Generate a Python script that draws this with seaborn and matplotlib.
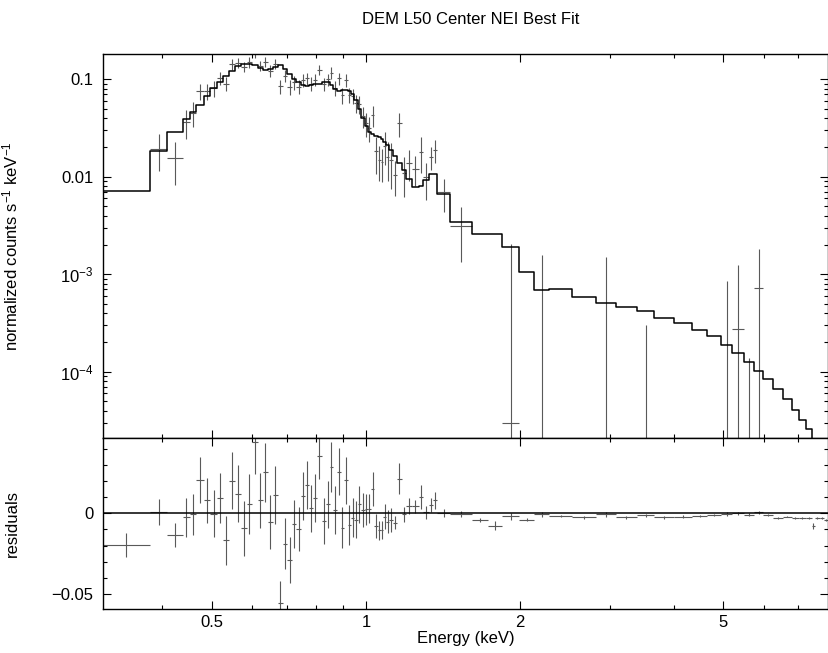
import numpy as np
import matplotlib
matplotlib.use("Agg")
import matplotlib.pyplot as plt
from matplotlib.ticker import FixedLocator, LogLocator, MultipleLocator, FuncFormatter, NullFormatter
import seaborn as sns

# bin edges of the grouped spectrum (keV)
edges = [0.300, 0.379, 0.408, 0.438, 0.452, 0.466, 0.482, 0.496, 0.511, 0.525,
         0.540, 0.555, 0.570, 0.585, 0.599, 0.614, 0.628, 0.642, 0.657, 0.673,
         0.687, 0.701, 0.717, 0.731, 0.746, 0.760, 0.775, 0.789, 0.803, 0.819,
         0.834, 0.849, 0.862, 0.876, 0.892, 0.907, 0.921, 0.935, 0.949, 0.964,
         0.979, 0.994, 1.009, 1.023, 1.038, 1.055, 1.070, 1.082, 1.097, 1.111,
         1.130, 1.152, 1.174, 1.198, 1.230, 1.269, 1.294, 1.326, 1.351, 1.377,
         1.462, 1.612, 1.736, 1.845, 1.994, 2.133, 2.282, 2.534, 2.816, 3.081,
         3.386, 3.660, 4.006, 4.337, 4.653, 4.942, 5.206, 5.489, 5.741, 5.987,
         6.261, 6.550, 6.803, 7.039, 7.246, 7.444, 7.555, 7.727, 7.868, 8.047]

# NEI model, normalized counts s^-1 keV^-1 per bin
model = [7.2e-3, 0.0185, 0.0289, 0.039, 0.0457, 0.0544, 0.0668, 0.0807, 0.093, 0.107,
         0.123, 0.136, 0.144, 0.144, 0.141, 0.130, 0.126, 0.128, 0.134, 0.141,
         0.128, 0.113, 0.100, 0.094, 0.087, 0.085, 0.087, 0.090, 0.090, 0.094,
         0.094, 0.088, 0.080, 0.076, 0.077, 0.078, 0.076, 0.070, 0.061, 0.050,
         0.040, 0.033, 0.029, 0.0276, 0.026, 0.0254, 0.0245, 0.023, 0.021, 0.019,
         0.0162, 0.0138, 0.0116, 0.0094, 0.0078, 0.0080, 0.0093, 0.0108, 0.0108, 0.0066,
         3.44e-3, 2.56e-3, 2.56e-3, 1.9e-3, 1.06e-3, 6.84e-4, 7.0e-4, 5.8e-4, 5.1e-4, 4.6e-4,
         4.2e-4, 3.6e-4, 3.2e-4, 2.7e-4, 2.3e-4, 1.9e-4, 1.57e-4, 1.27e-4, 1.03e-4, 8.4e-5,
         6.7e-5, 5.3e-5, 4.1e-5, 3.2e-5, 2.6e-5, 1.9e-5, 1.5e-5, 1.2e-5, 1.0e-5]

# residuals (data - model) and 1-sigma errors
resid = [-0.0196, 0.0010, -0.0134, -0.0023, -0.0006, 0.0206, 0.0082, -0.0002, 0.0095, -0.0167,
         0.0202, 0.0123, -0.0093, 0.0058, 0.0442, 0.0082, 0.0255, -0.0053, 0.0111, -0.0558,
         -0.0187, -0.0288, -0.0068, -0.0099, 0.0107, 0.0173, 0.0031, 0.0093, 0.0358, -0.0047,
         0.0056, 0.0288, 0.0019, 0.0259, -0.0088, 0.0204, -0.0072, -0.0027, -0.0039, 0.0056,
         0.0021, 0.0025, 0.0029, 0.0152, -0.0078, -0.0105, -0.0103, -0.0021, -0.0051, -0.0041,
         -0.0058, 0.0216, -0.0006, 0.0045, 0.0043, 0.0101, 0.0006, 0.0053, 0.0080, 0.0004,
         -0.0003, -0.0041, -0.0077, -0.00187, -0.0040, -0.0007, -0.0016, -0.0025, -0.0006, -0.0025,
         -0.0012, -0.0025, -0.0020, -0.0016, -0.0010, -0.0004, 0.00012, -0.0008, 0.00062, -0.0010,
         -0.0027, -0.0020, -0.0030, -0.0030, -0.0027, -0.0080, -0.0030, -0.0030, -0.0040]

resid_err = [0.0073, 0.0080, 0.0072, 0.0121, 0.0128, 0.0144, 0.0139, 0.0145, 0.0157, 0.0151,
             0.0178, 0.0178, 0.0170, 0.0183, 0.0198, 0.0170, 0.0182, 0.0168, 0.0180, 0.0140,
             0.0160, 0.0144, 0.0148, 0.0136, 0.0150, 0.0149, 0.0144, 0.0149, 0.0142, 0.0140,
             0.0146, 0.0157, 0.0149, 0.0148, 0.0126, 0.0146, 0.0123, 0.0121, 0.0115, 0.0113,
             0.0103, 0.0097, 0.0091, 0.0106, 0.0075, 0.0059, 0.0053, 0.0077, 0.0069, 0.0074,
             0.0041, 0.0096, 0.0048, 0.0049, 0.0041, 0.0072, 0.0041, 0.0043, 0.0051, 0.0026,
             0.0018, 0.0012, 0.0027, 0.00199, 0.0010, 0.00158, 0.0005, 0.0008, 0.00159, 0.0008,
             0.00108, 0.0008, 0.0007, 0.0006, 0.0005, 0.00107, 0.00098, 0.00081, 0.00108, 0.0004,
             0.0005, 0.0005, 0.0005, 0.0005, 0.0005, 0.0020, 0.0005, 0.0005, 0.0005]

sns.set_theme(style="ticks")
plt.rcParams["font.family"] = ["Liberation Sans", "DejaVu Sans"]
plt.rcParams["mathtext.fontset"] = "custom"
plt.rcParams["mathtext.rm"] = "Liberation Sans"
plt.rcParams["mathtext.it"] = "Liberation Sans:italic"
plt.rcParams["mathtext.bf"] = "Liberation Sans:bold"
plt.rcParams["font.size"] = 12
plt.rcParams["text.color"] = "black"
plt.rcParams["axes.labelcolor"] = "black"
plt.rcParams["xtick.color"] = "black"
plt.rcParams["ytick.color"] = "black"

e = np.array(edges)
lo, hi = e[:-1], e[1:]
centre = (lo + hi) / 2
half = (hi - lo) / 2
mod = np.array(model)
res = np.array(resid)
err = np.array(resid_err)
rate = mod + res

fig = plt.figure(figsize=(8.29, 6.53), dpi=100)
ax1 = fig.add_axes([0.1242, 0.3292, 0.8745, 0.5881])
ax2 = fig.add_axes([0.1242, 0.0674, 0.8745, 0.2618], sharex=ax1)

cross = dict(fmt="none", ecolor="0.35", elinewidth=0.8, capsize=0)

# top panel: data crosses + step model
ax1.errorbar(centre, rate, xerr=half, yerr=err, **cross)
sns.lineplot(x=e, y=np.append(mod, mod[-1]), drawstyle="steps-post",
             estimator=None, sort=False, color="black", linewidth=1.1, ax=ax1)
ax1.set_xscale("log")
ax1.set_yscale("log")
ax1.set_ylim(2.09e-5, 0.1817)

# bottom panel: residuals
ax2.errorbar(centre, res, xerr=half, yerr=err, **cross)
ax2.axhline(0, color="black", linewidth=1.1)
ax2.set_ylim(-0.0593, 0.0467)
ax2.set_xlim(0.306, 8.01)

# ticks
for ax in (ax1, ax2):
    ax.xaxis.set_major_locator(FixedLocator([0.5, 1, 2, 5]))
    ax.xaxis.set_minor_locator(FixedLocator([0.4, 0.6, 0.7, 0.8, 0.9, 3, 4, 6, 7]))
    ax.xaxis.set_minor_formatter(NullFormatter())
    ax.tick_params(which="both", direction="in", top=True, right=True,
                   width=0.8, labelsize=12)
    ax.tick_params(which="major", length=5.5)
    ax.tick_params(which="minor", length=3)
    ax.tick_params(axis="y", pad=7)
    ax.tick_params(axis="x", pad=4)
    for s in ax.spines.values():
        s.set_color("black")
        s.set_linewidth(1.0)

ax1.tick_params(axis="x", labelbottom=False)
ax2.xaxis.set_major_formatter(FuncFormatter(lambda v, p: "%g" % v))

ax1.yaxis.set_major_locator(LogLocator(base=10))
ax1.yaxis.set_minor_locator(LogLocator(base=10, subs=np.arange(2, 10) * 1.0, numticks=20))
ax1.yaxis.set_minor_formatter(NullFormatter())
ylabels = {-1: "0.1", -2: "0.01"}
ax1.yaxis.set_major_formatter(FuncFormatter(
    lambda v, p: ylabels.get(int(round(np.log10(v))), "10$^{%d}$" % int(round(np.log10(v))))))

ax2.yaxis.set_major_locator(MultipleLocator(0.05))
ax2.yaxis.set_minor_locator(MultipleLocator(0.01))
ax2.yaxis.set_major_formatter(FuncFormatter(lambda v, p: ("%g" % round(v, 3)).replace("-", "\u2212")))

ax1.set_xlabel("")
ax1.set_ylabel("normalized counts s$^{-1}$ keV$^{-1}$", fontsize=12)
ax1.yaxis.set_label_coords(-0.114, 0.5)
ax2.set_ylabel("residuals", fontsize=12)
ax2.yaxis.set_label_coords(-0.114, 0.5)
ax2.set_xlabel("Energy (keV)", fontsize=12)
ax2.xaxis.set_label_coords(0.5, -0.128)

fig.text(471 / 829, 1 - 20 / 653, "DEM L50 Center NEI Best Fit",
         ha="center", va="center", fontsize=12)

fig.savefig("out.png", dpi=100)
